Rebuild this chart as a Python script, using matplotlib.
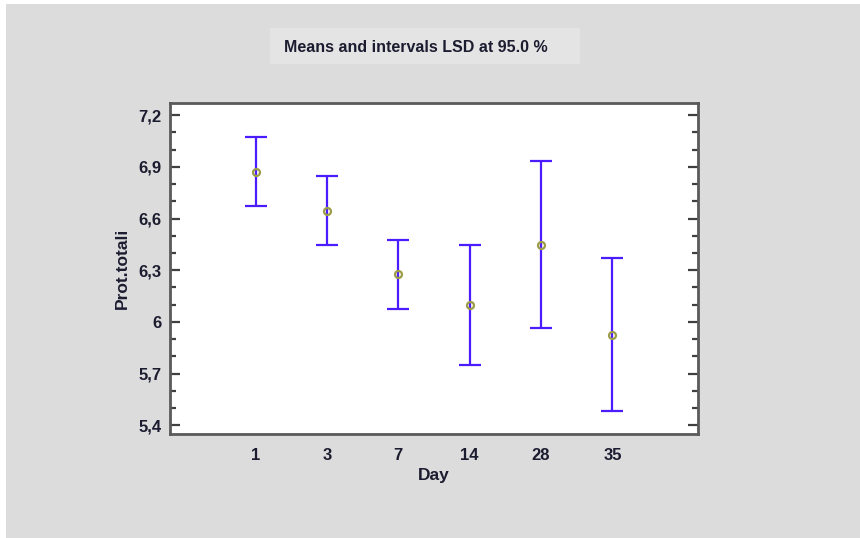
import matplotlib
matplotlib.use('Agg')
import matplotlib.pyplot as plt
from matplotlib.patches import Rectangle
from matplotlib.ticker import MultipleLocator, FuncFormatter
import numpy as np

# ----------------- Data -----------------
days = ["1", "3", "7", "14", "28", "35"]
means = [6.87, 6.645, 6.276, 6.099, 6.448, 5.926]
lower = [6.67, 6.447, 6.074, 5.750, 5.963, 5.482]
upper = [7.07, 6.846, 6.478, 6.447, 6.932, 6.371]

title = "Means and intervals LSD at 95.0 %"
xlabel = "Day"
ylabel = "Prot.totali"

# ----------------- Style -----------------
BG = '#dcdcdc'
BAR_COLOR = '#4a1cff'
MARK_COLOR = '#9c9c48'
TXT_COLOR = '#1c1c30'
plt.rcParams['font.family'] = ['Liberation Sans', 'DejaVu Sans']

fig = plt.figure(figsize=(8.6, 5.38), dpi=100)
fig.patch.set_facecolor('white')
# gray panel (small white margin at the left and top)
fig.patches.append(Rectangle((6 / 860, 0), 1, 1 - 4 / 538, transform=fig.transFigure,
                             facecolor=BG, edgecolor='none', zorder=-10))
# title box
fig.patches.append(Rectangle((270 / 860, 1 - 64 / 538), 310 / 860, 36 / 538,
                             transform=fig.transFigure, facecolor='#e4e4e4',
                             edgecolor='none', zorder=-5))
fig.text(416 / 860, 1 - 47 / 538, title, ha='center', va='center',
         fontsize=11.5, fontweight='bold', color=TXT_COLOR)

ax = fig.add_axes([170 / 860, 1 - 434 / 538, 528 / 860, 331 / 538])
ax.set_facecolor('white')

x = np.arange(len(days))
m = np.array(means)
yerr = np.vstack([m - np.array(lower), np.array(upper) - m])
ax.errorbar(x, m, yerr=yerr, fmt='none', ecolor=BAR_COLOR, elinewidth=1.6,
            capsize=8, capthick=1.6, zorder=2)
ax.plot(x, m, linestyle='none', marker='o', markersize=5, markerfacecolor='none',
        markeredgecolor=MARK_COLOR, markeredgewidth=1.6, zorder=3)

ax.set_xlim(-1.2, len(days) - 1 + 1.2)
ax.set_ylim(5.35, 7.27)
ax.set_xticks(x)
ax.set_xticklabels(days)
ax.yaxis.set_major_locator(MultipleLocator(0.3))
ax.yaxis.set_minor_locator(MultipleLocator(0.1))
ax.yaxis.set_major_formatter(FuncFormatter(lambda v, p: f"{v:g}".replace('.', ',')))

ax.tick_params(axis='x', length=0, pad=10, labelsize=12, labelcolor=TXT_COLOR)
ax.tick_params(axis='y', which='both', direction='in', right=True, color='#404040',
               labelsize=12, labelcolor=TXT_COLOR, pad=6)
ax.tick_params(axis='y', which='major', length=7, width=1.6)
ax.tick_params(axis='y', which='minor', length=4, width=1.6)
for lab in ax.get_xticklabels() + ax.get_yticklabels():
    lab.set_fontweight('bold')

for sp in ax.spines.values():
    sp.set_color('#5a5a5a')
    sp.set_linewidth(2)

ax.set_xlabel(xlabel, fontsize=12.5, fontweight='bold', color=TXT_COLOR, labelpad=4)
ax.set_ylabel(ylabel, fontsize=12.5, fontweight='bold', color=TXT_COLOR, labelpad=6)

fig.savefig('out.png', dpi=100, facecolor=fig.get_facecolor())
